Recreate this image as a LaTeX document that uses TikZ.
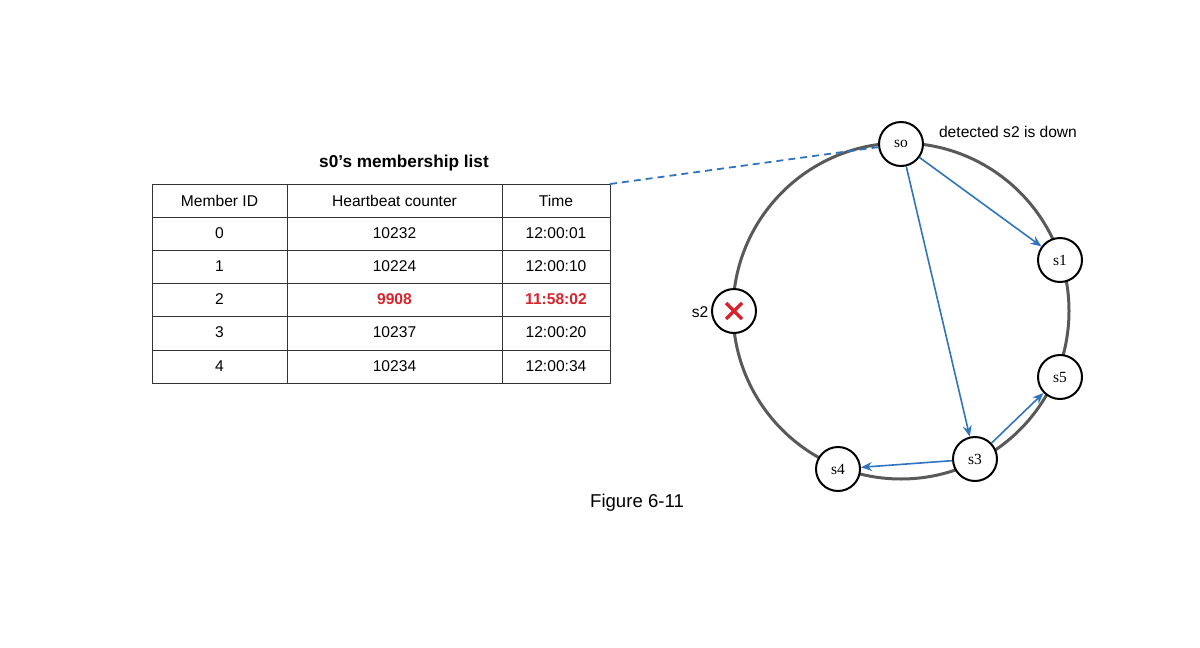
\documentclass[tikz,border=0pt]{standalone}
\usepackage{fontspec}
\setmainfont{Liberation Sans}
\newfontfamily\serf{Liberation Serif}
\usetikzlibrary{arrows.meta}
\definecolor{blu}{HTML}{2F75BE}
\definecolor{rd}{HTML}{D9222A}
\begin{document}
\begin{tikzpicture}[x=1pt,y=-1pt,
  srv/.style={circle,draw=black,line width=2pt,fill=white,minimum size=44pt,inner sep=0pt,font=\serf\fontsize{15.5}{16}\selectfont},
  msg/.style={draw=blu,line width=1.6pt,-{Stealth[length=11pt,width=9pt]}},
  txt/.style={font=\fontsize{15.6}{18}\selectfont}]
\useasboundingbox (0,0) rectangle (1200,648);
% table
\draw[line width=1pt,draw=black!80] (152,184) rectangle (610,383);
\foreach \y in {217,250,283,316,350} \draw[line width=1pt,draw=black!80] (152,\y) -- (610,\y);
\foreach \x in {287,502} \draw[line width=1pt,draw=black!80] (\x,184) -- (\x,383);
\node[font=\bfseries\fontsize{17.2}{19}\selectfont] (title) at (404,163) {s0's membership list};
\foreach \y/\a/\b/\c in {200.5/Member ID/Heartbeat counter/Time,233.5/0/10232/12:00:01,266.5/1/10224/12:00:10,332.5/3/10237/12:00:20,366.5/4/10234/12:00:34}{
  \node[txt] at (219.5,\y) {\a};
  \node[txt] at (394.5,\y) {\b};
  \node[txt] at (556,\y) {\c};}
\node[txt] at (219.5,299.5) {2};
\node[text=rd,font=\bfseries\fontsize{15.6}{18}\selectfont] at (394.5,299.5) {9908};
\node[text=rd,font=\bfseries\fontsize{15.6}{18}\selectfont] at (556,299.5) {11:58:02};
\coordinate (tc) at (610,184);
% ring
\draw[line width=3pt,draw=black!65] (901,311) circle (168);
\node[srv] (s0) at (901,144) {so};
\node[srv] (s1) at (1060,260) {s1};
\node[srv] (s5) at (1060,377) {s5};
\node[srv] (s3) at (975,459) {s3};
\node[srv] (s4) at (838,469) {s4};
\node[srv] (s2) at (734,311) {};
\draw[rd,line width=3.5pt] ([shift={(-8,-8)}]s2.center) -- ([shift={(8,8)}]s2.center)
  ([shift={(-8,8)}]s2.center) -- ([shift={(8,-8)}]s2.center);
\node[txt] (l2) at (700,312) {s2};
\node[txt] (det) at (1008,132) {detected s2 is down};
\draw[blu,line width=1.8pt,dash pattern=on 7pt off 5pt] (tc) -- (s0);
\draw[msg] (s0) -- (s1);
\draw[msg] (s0) -- (s3);
\draw[msg] (s3) -- (s4);
\draw[msg] (s3) -- (s5);
\node[font=\fontsize{18.6}{20}\selectfont] (fig) at (637,503) {Figure 6-11};
\end{tikzpicture}
\end{document}
